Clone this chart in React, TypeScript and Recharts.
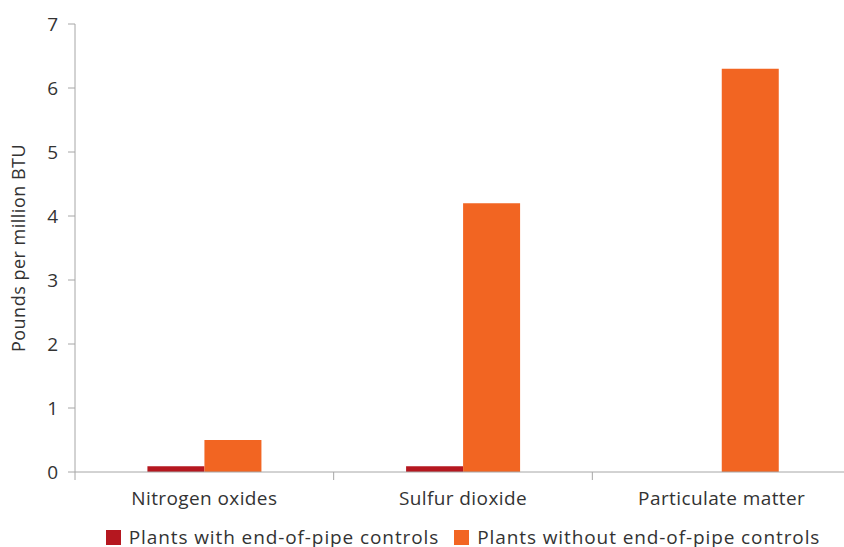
import React from 'react';
import { BarChart, Bar, XAxis, YAxis, Legend, Label } from 'recharts';

const categories = ['Nitrogen oxides', 'Sulfur dioxide', 'Particulate matter'];
const withControls = [0.09, 0.09, 0];
const withoutControls = [0.5, 4.2, 6.3];
const yTicks = [0, 1, 2, 3, 4, 5, 6, 7];

const seriesNames = {
  withControls: 'Plants with end-of-pipe controls',
  withoutControls: 'Plants without end-of-pipe controls',
};

const RED = '#b5171f';
const ORANGE = '#f26522';
const AXIS = '#a6a6a6';
const TEXT = '#333333';
const FONT = '"Open Sans", "Noto Sans", sans-serif';

const data = categories.map((name, i) => ({
  name,
  withControls: withControls[i],
  withoutControls: withoutControls[i],
}));

// category label centred in the band, tick marks on the band edges
function CategoryTick(props: any) {
  const { x, y, payload, index } = props;
  const half = payload?.offset ?? 0;
  const last = index === categories.length - 1;
  return (
    <g>
      <line x1={x - half} x2={x - half} y1={y} y2={y + 8} stroke={AXIS} />
      {last && <line x1={x + half} x2={x + half} y1={y} y2={y + 8} stroke={AXIS} />}
      <text
        x={x}
        y={y + 33}
        textAnchor="middle"
        fill={TEXT}
        fontSize={19}
        letterSpacing={0.4}
        fontFamily={FONT}
      >
        {payload.value}
      </text>
    </g>
  );
}

function LegendContent() {
  const items = [
    { label: seriesNames.withControls, color: RED },
    { label: seriesNames.withoutControls, color: ORANGE },
  ];
  return (
    <div
      style={{
        display: 'flex',
        justifyContent: 'center',
        gap: 15,
        fontFamily: FONT,
        fontSize: 19,
        lineHeight: '18px',
        letterSpacing: 0.9,
        color: TEXT,
      }}
    >
      {items.map(it => (
        <div key={it.label} style={{ display: 'flex', alignItems: 'center', gap: 8 }}>
          <span style={{ width: 15, height: 15, background: it.color, display: 'inline-block' }} />
          <span>{it.label}</span>
        </div>
      ))}
    </div>
  );
}

export default function App() {
  return (
    <div style={{ position: 'absolute', left: 0, top: 0, width: 844, height: 547, overflow: 'hidden', background: '#fff' }}>
      <BarChart
        width={860}
        height={547}
        data={data}
        margin={{ top: 24, right: 9, left: 0, bottom: 35 }}
        barCategoryGap="28%"
        barGap={0}
      >
        <XAxis
          dataKey="name"
          stroke={AXIS}
          tickLine={false}
          tickSize={0}
          tickMargin={0}
          height={40}
          interval={0}
          tick={<CategoryTick />}
        />
        <YAxis
          domain={[0, 7]}
          ticks={yTicks}
          width={75}
          stroke={AXIS}
          tickSize={7}
          tickMargin={10}
          tick={{ fill: TEXT, fontSize: 19, fontFamily: FONT }}
        >
          <Label
            content={(p: any) => {
              const vb = p.viewBox || { x: 0, y: 24, width: 75, height: 448 };
              const cx = vb.x + 18;
              const cy = vb.y + vb.height / 2;
              return (
                <text
                  x={cx}
                  y={cy}
                  transform={`rotate(-90, ${cx}, ${cy})`}
                  textAnchor="middle"
                  dominantBaseline="central"
                  fill={TEXT}
                  fontSize={18}
                  letterSpacing={0.5}
                  fontFamily={FONT}
                >
                  Pounds per million BTU
                </text>
              );
            }}
          />
        </YAxis>
        <Legend
          layout="vertical"
          align="center"
          verticalAlign="middle"
          wrapperStyle={{ top: 528, left: 75, width: 776 }}
          content={<LegendContent />}
        />
        <Bar dataKey="withControls" name={seriesNames.withControls} fill={RED} isAnimationActive={false} />
        <Bar dataKey="withoutControls" name={seriesNames.withoutControls} fill={ORANGE} isAnimationActive={false} />
      </BarChart>
    </div>
  );
}
